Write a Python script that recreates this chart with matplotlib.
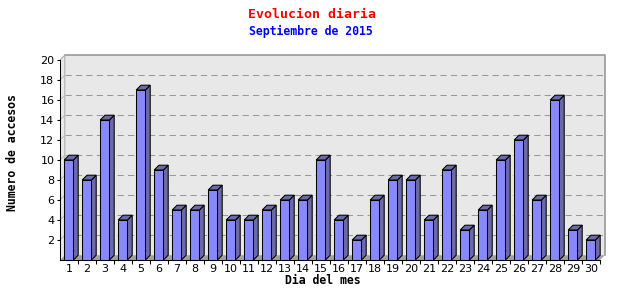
import matplotlib
matplotlib.use("Agg")
import matplotlib.pyplot as plt
from matplotlib.patches import Polygon, Rectangle

days = [str(d) for d in range(1, 31)]
accesos = [10, 8, 14, 4, 17, 9, 5, 5, 7, 4, 4, 5, 6, 6, 10, 4, 2, 6, 8, 8,
           4, 9, 3, 5, 10, 12, 6, 16, 3, 2]
yticks = [2, 4, 6, 8, 10, 12, 14, 16, 18, 20]
title = "Evolucion diaria"
subtitle = "Septiembre de 2015"
xlabel = "Dia del mes"
ylabel = "Numero de accesos"

W, H = 640, 300
fig = plt.figure(figsize=(W / 100, H / 100), dpi=100)
fig.patch.set_facecolor("white")

L, R, T, B = 60, 600, 60, 260
ax = fig.add_axes([L / W, 1 - B / H, (R - L) / W, (B - T) / H])
n = len(accesos)
ymax = 20
ax.set_xlim(0, n)
ax.set_ylim(0, ymax)
ax.set_facecolor("none")
for s in ax.spines.values():
    s.set_visible(False)

slot_px = (R - L) / n
unit_px = (B - T) / ymax
dpx = 4.8
dx = dpx / slot_px
dy = dpx / unit_px
LW = 0.75

# back wall
ax.add_patch(Rectangle((dx, dy), n, ymax, facecolor="#e8e8e8",
                       edgecolor="none", zorder=0, clip_on=False))
# left side wall
ax.add_patch(Polygon([(0, 0), (dx, dy), (dx, ymax + dy), (0, ymax)],
                     closed=True, facecolor="#e8e8e8", edgecolor="none",
                     zorder=0, clip_on=False))
# floor
ax.add_patch(Polygon([(0, 0), (n, 0), (n + dx, dy), (dx, dy)], closed=True,
                     facecolor="#a0a0a0", edgecolor="none", zorder=0.5,
                     clip_on=False))
# wall borders
ax.plot([dx, n + dx, n + dx], [ymax + dy, ymax + dy, dy], color="#999999",
        lw=1.2, zorder=0.6, clip_on=False)
ax.plot([0, dx, dx], [ymax, ymax + dy, dy], color="#aaaaaa", lw=LW,
        zorder=0.6, clip_on=False)
# gridlines
for v in yticks[:-1]:
    ax.plot([dx, n + dx], [v + dy, v + dy], color="#999999", lw=LW,
            ls=(0, (6, 4)), zorder=0.7, clip_on=False)
    ax.plot([0, dx], [v, v + dy], color="#bbbbbb", lw=LW, zorder=0.7,
            clip_on=False)

front = "#8888ff"
side = "#6a6aaa"
bw = 9.2 / slot_px
off = 4.2 / slot_px
for i, v in enumerate(accesos):
    x0 = i + off
    x1 = x0 + bw
    ax.add_patch(Polygon([(x1, 0), (x1 + dx, dy), (x1 + dx, v + dy), (x1, v)],
                         closed=True, facecolor=side, edgecolor="black",
                         lw=LW, zorder=2, clip_on=False, joinstyle="miter"))
    ax.add_patch(Polygon([(x0, v), (x0 + dx, v + dy), (x1 + dx, v + dy), (x1, v)],
                         closed=True, facecolor=side, edgecolor="black",
                         lw=LW, zorder=2, clip_on=False, joinstyle="miter"))
    ax.add_patch(Rectangle((x0, 0), bw, v, facecolor=front, edgecolor="black",
                           lw=LW, zorder=3, clip_on=False))

# front axes lines
ax.plot([0, n], [0, 0], color="black", lw=LW, zorder=4, clip_on=False)
ax.plot([0, 0], [0, ymax], color="black", lw=LW, zorder=4, clip_on=False)

ax.set_yticks(yticks)
ax.set_yticklabels([str(v) for v in yticks])
ax.set_xticks([i + 0.5 for i in range(n)])
ax.set_xticklabels(days)
ax.set_xticks(list(range(1, n + 1)), minor=True)
ax.tick_params(axis="x", which="major", length=0, pad=3, labelsize=8)
ax.tick_params(axis="x", which="minor", length=3, width=LW, color="black",
               direction="out")
ax.tick_params(axis="y", length=2, width=LW, color="black", pad=2,
               labelsize=8, direction="out")
for lab in ax.get_xticklabels() + ax.get_yticklabels():
    lab.set_family("DejaVu Sans")

fig.text(312 / W, 1 - 14 / H, title, color="#ff0000", ha="center",
         va="center", fontsize=9.5, fontweight="bold",
         family="DejaVu Sans Mono")
fig.text(311 / W, 1 - 31 / H, subtitle, color="#0000ff", ha="center",
         va="center", fontsize=8.3, fontweight="bold",
         family="DejaVu Sans Mono")
fig.text(323 / W, 1 - 281 / H, xlabel, color="black", ha="center",
         va="center", fontsize=8.3, fontweight="bold",
         family="DejaVu Sans Mono")
fig.text(13 / W, 1 - 153 / H, ylabel, color="black", ha="center",
         va="center", fontsize=8.3, fontweight="bold", rotation=90,
         family="DejaVu Sans Mono")

fig.savefig("out.png", dpi=100, facecolor="white")
